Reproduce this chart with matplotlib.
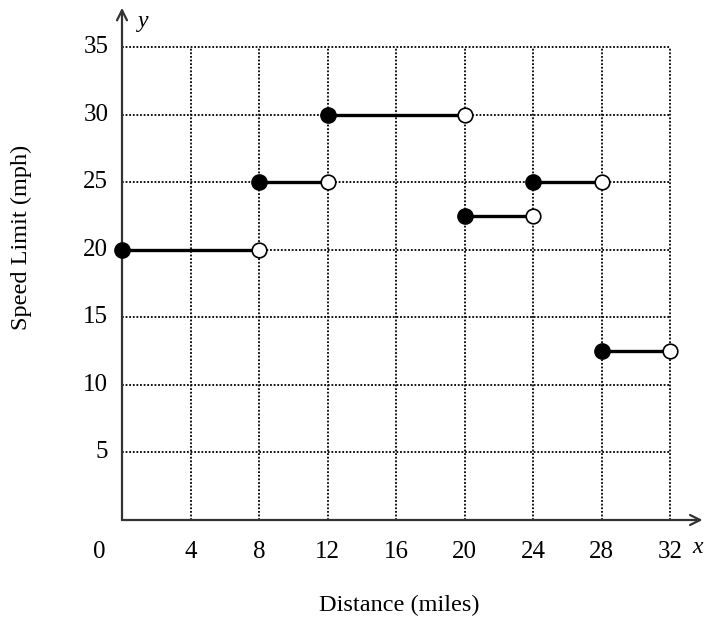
import matplotlib.pyplot as plt

# piecewise speed limits along the road
starts = [0, 8, 12, 20, 24, 28]
ends = [8, 12, 20, 24, 28, 32]
speeds = [20, 25, 30, 22.5, 25, 12.5]

x_ticks = [4, 8, 12, 16, 20, 24, 28, 32]
y_ticks = [5, 10, 15, 20, 25, 30, 35]

fig = plt.figure(figsize=(7.04, 6.21), dpi=100)
ax = fig.add_axes([122/704, 101/621, 548/704, 473/621])
ax.set_xlim(0, 32)
ax.set_ylim(0, 35)
ax.axis("off")

serif = "Liberation Serif"

# dotted grid
for xv in x_ticks:
    ax.plot([xv, xv], [0, 35], color="black", lw=1.3,
            linestyle=(0, (1, 1)), zorder=1, clip_on=False)
for yv in y_ticks:
    ax.plot([0, 32], [yv, yv], color="black", lw=1.3,
            linestyle=(0, (1, 1)), zorder=1, clip_on=False)

# axes with arrows
arrow = dict(arrowstyle="->", color="#333333", lw=1.6,
             mutation_scale=18, shrinkA=0, shrinkB=0)
ax.annotate("", xy=(33.9, 0), xytext=(0, 0), arrowprops=arrow,
            annotation_clip=False, zorder=2)
ax.annotate("", xy=(0, 37.9), xytext=(0, 0), arrowprops=arrow,
            annotation_clip=False, zorder=2)

# tick labels
for xv in x_ticks:
    ax.text(xv, -2.4, str(xv), ha="center", va="center",
            fontsize=18, family=serif)
ax.text(-1.3, -2.4, "0", ha="center", va="center", fontsize=18, family=serif)
for yv in y_ticks:
    ax.text(-0.8, yv, str(yv), ha="right", va="center",
            fontsize=18, family=serif)

ax.text(1.25, 36.85, "y", ha="center", va="center", fontsize=17,
        family=serif, style="italic")
ax.text(33.6, -2.0, "x", ha="center", va="center", fontsize=17,
        family=serif, style="italic")

ax.text(16.2, -6.3, "Distance (miles)", ha="center", va="center",
        fontsize=17.5, family=serif)
ax.text(-5.85, 20.9, "Speed Limit (mph)", ha="center", va="center",
        fontsize=17.5, family=serif, rotation=90)

# segments with closed start and open end
for x0, x1, s in zip(starts, ends, speeds):
    ax.plot([x0, x1], [s, s], color="black", lw=2.4, zorder=3,
            solid_capstyle="butt", clip_on=False)
    ax.plot(x0, s, "o", color="black", ms=11, zorder=4, clip_on=False)
    ax.plot(x1, s, "o", mfc="white", mec="black", mew=1.2, ms=10.5,
            zorder=4, clip_on=False)

fig.savefig("out.png", dpi=100)
